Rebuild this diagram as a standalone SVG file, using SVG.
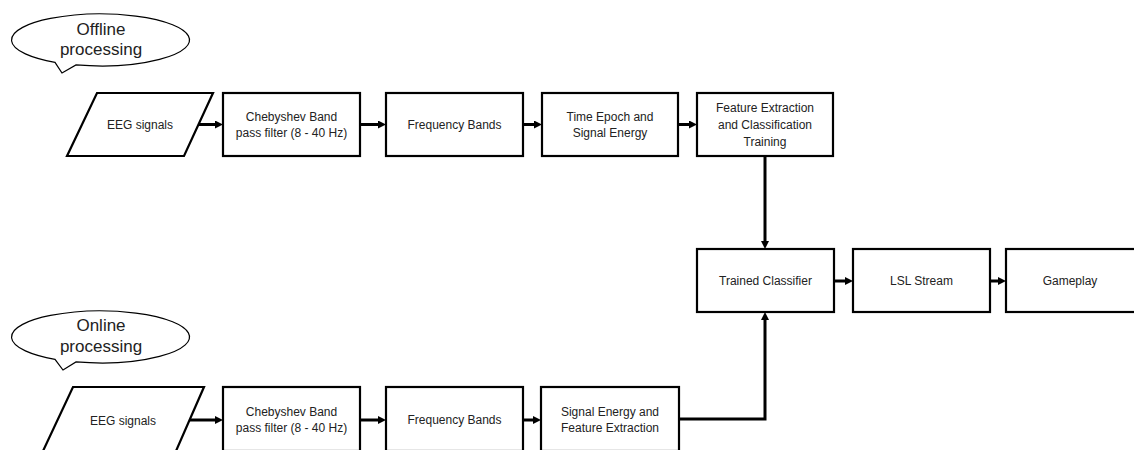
<svg xmlns="http://www.w3.org/2000/svg" width="1134" height="450" viewBox="0 0 1134 450">
  <style>
    .box { fill: #fff; stroke: #000; stroke-width: 2.2; }
    .call { fill: #fff; stroke: #000; stroke-width: 1.2; }
    .t { font-family: "Liberation Sans", Arial, sans-serif; font-size: 12px; fill: #222; text-anchor: middle; }
    .ct { font-family: "Liberation Sans", Arial, sans-serif; font-size: 17px; fill: #222; text-anchor: middle; }
    .conn { fill: none; stroke: #000; stroke-width: 3; marker-end: url(#ah); }
  </style>
  <defs>
    <marker id="ah" viewBox="0 0 10 10" refX="2.5" refY="5" markerWidth="8" markerHeight="8" markerUnits="userSpaceOnUse" orient="auto">
      <path d="M0,0 L10,5 L0,10 z" fill="#000"/>
    </marker>
  </defs>
  <rect width="1134" height="450" fill="#fff"/>

  <!-- Callouts -->
  <g id="callout-offline">
    <path class="call" d="M 76 64.95 A 89 26 0 1 0 55 62.3 L 62 73 Z"/>
    <text class="ct" x="101" y="35">Offline</text>
    <text class="ct" x="101" y="55">processing</text>
  </g>
  <g id="callout-online">
    <path class="call" d="M 76 361.95 A 89 26 0 1 0 55 359.3 L 63 370 Z"/>
    <text class="ct" x="101" y="331">Online</text>
    <text class="ct" x="101" y="352">processing</text>
  </g>

  <!-- Connectors -->
  <g id="connectors">
    <path class="conn" d="M199 124.5 H217"/>
    <path class="conn" d="M360 124.5 H380"/>
    <path class="conn" d="M523 124.5 H536"/>
    <path class="conn" d="M678 124.5 H691"/>
    <path class="conn" d="M765 156 V243"/>
    <path class="conn" d="M834 281 H847"/>
    <path class="conn" d="M990 281 H1000"/>
    <path class="conn" d="M189 420 H217"/>
    <path class="conn" d="M360 420 H380"/>
    <path class="conn" d="M523 420 H535"/>
    <path class="conn" d="M679 419 H765 V318"/>
  </g>

  <!-- Offline row -->
  <g id="eeg-offline">
    <polygon class="box" points="97,93 213,93 184,156 67,156"/>
    <text class="t" x="140" y="129">EEG signals</text>
  </g>
  <g id="cheb-offline">
    <rect class="box" x="223" y="93" width="137" height="63"/>
    <text class="t" x="291.5" y="120.5">Chebyshev Band</text>
    <text class="t" x="291.5" y="136.5">pass filter (8 - 40 Hz)</text>
  </g>
  <g id="freq-offline">
    <rect class="box" x="386" y="93" width="137" height="63"/>
    <text class="t" x="454.5" y="128.5">Frequency Bands</text>
  </g>
  <g id="epoch-offline">
    <rect class="box" x="542" y="93" width="136" height="63"/>
    <text class="t" x="610" y="120.5">Time Epoch and</text>
    <text class="t" x="610" y="136.5">Signal Energy</text>
  </g>
  <g id="feature-offline">
    <rect class="box" x="697" y="93" width="136" height="63"/>
    <text class="t" x="765" y="111.5">Feature Extraction</text>
    <text class="t" x="765" y="128.5">and Classification</text>
    <text class="t" x="765" y="145.5">Training</text>
  </g>

  <!-- Middle row -->
  <g id="trained-classifier">
    <rect class="box" x="697" y="249" width="137" height="63"/>
    <text class="t" x="765.5" y="285">Trained Classifier</text>
  </g>
  <g id="lsl-stream">
    <rect class="box" x="853" y="249" width="137" height="63"/>
    <text class="t" x="921.5" y="285">LSL Stream</text>
  </g>
  <g id="gameplay">
    <rect class="box" x="1006" y="249" width="137" height="63"/>
    <text class="t" x="1070" y="285">Gameplay</text>
  </g>

  <!-- Online row -->
  <g id="eeg-online">
    <polygon class="box" points="73,387 204,387 176,451 43,451"/>
    <text class="t" x="123" y="425">EEG signals</text>
  </g>
  <g id="cheb-online">
    <rect class="box" x="223" y="387" width="137" height="64"/>
    <text class="t" x="291.5" y="416">Chebyshev Band</text>
    <text class="t" x="291.5" y="432">pass filter (8 - 40 Hz)</text>
  </g>
  <g id="freq-online">
    <rect class="box" x="386" y="387" width="137" height="64"/>
    <text class="t" x="454.5" y="424">Frequency Bands</text>
  </g>
  <g id="energy-online">
    <rect class="box" x="541" y="387" width="138" height="64"/>
    <text class="t" x="610" y="416">Signal Energy and</text>
    <text class="t" x="610" y="432">Feature Extraction</text>
  </g>
</svg>
